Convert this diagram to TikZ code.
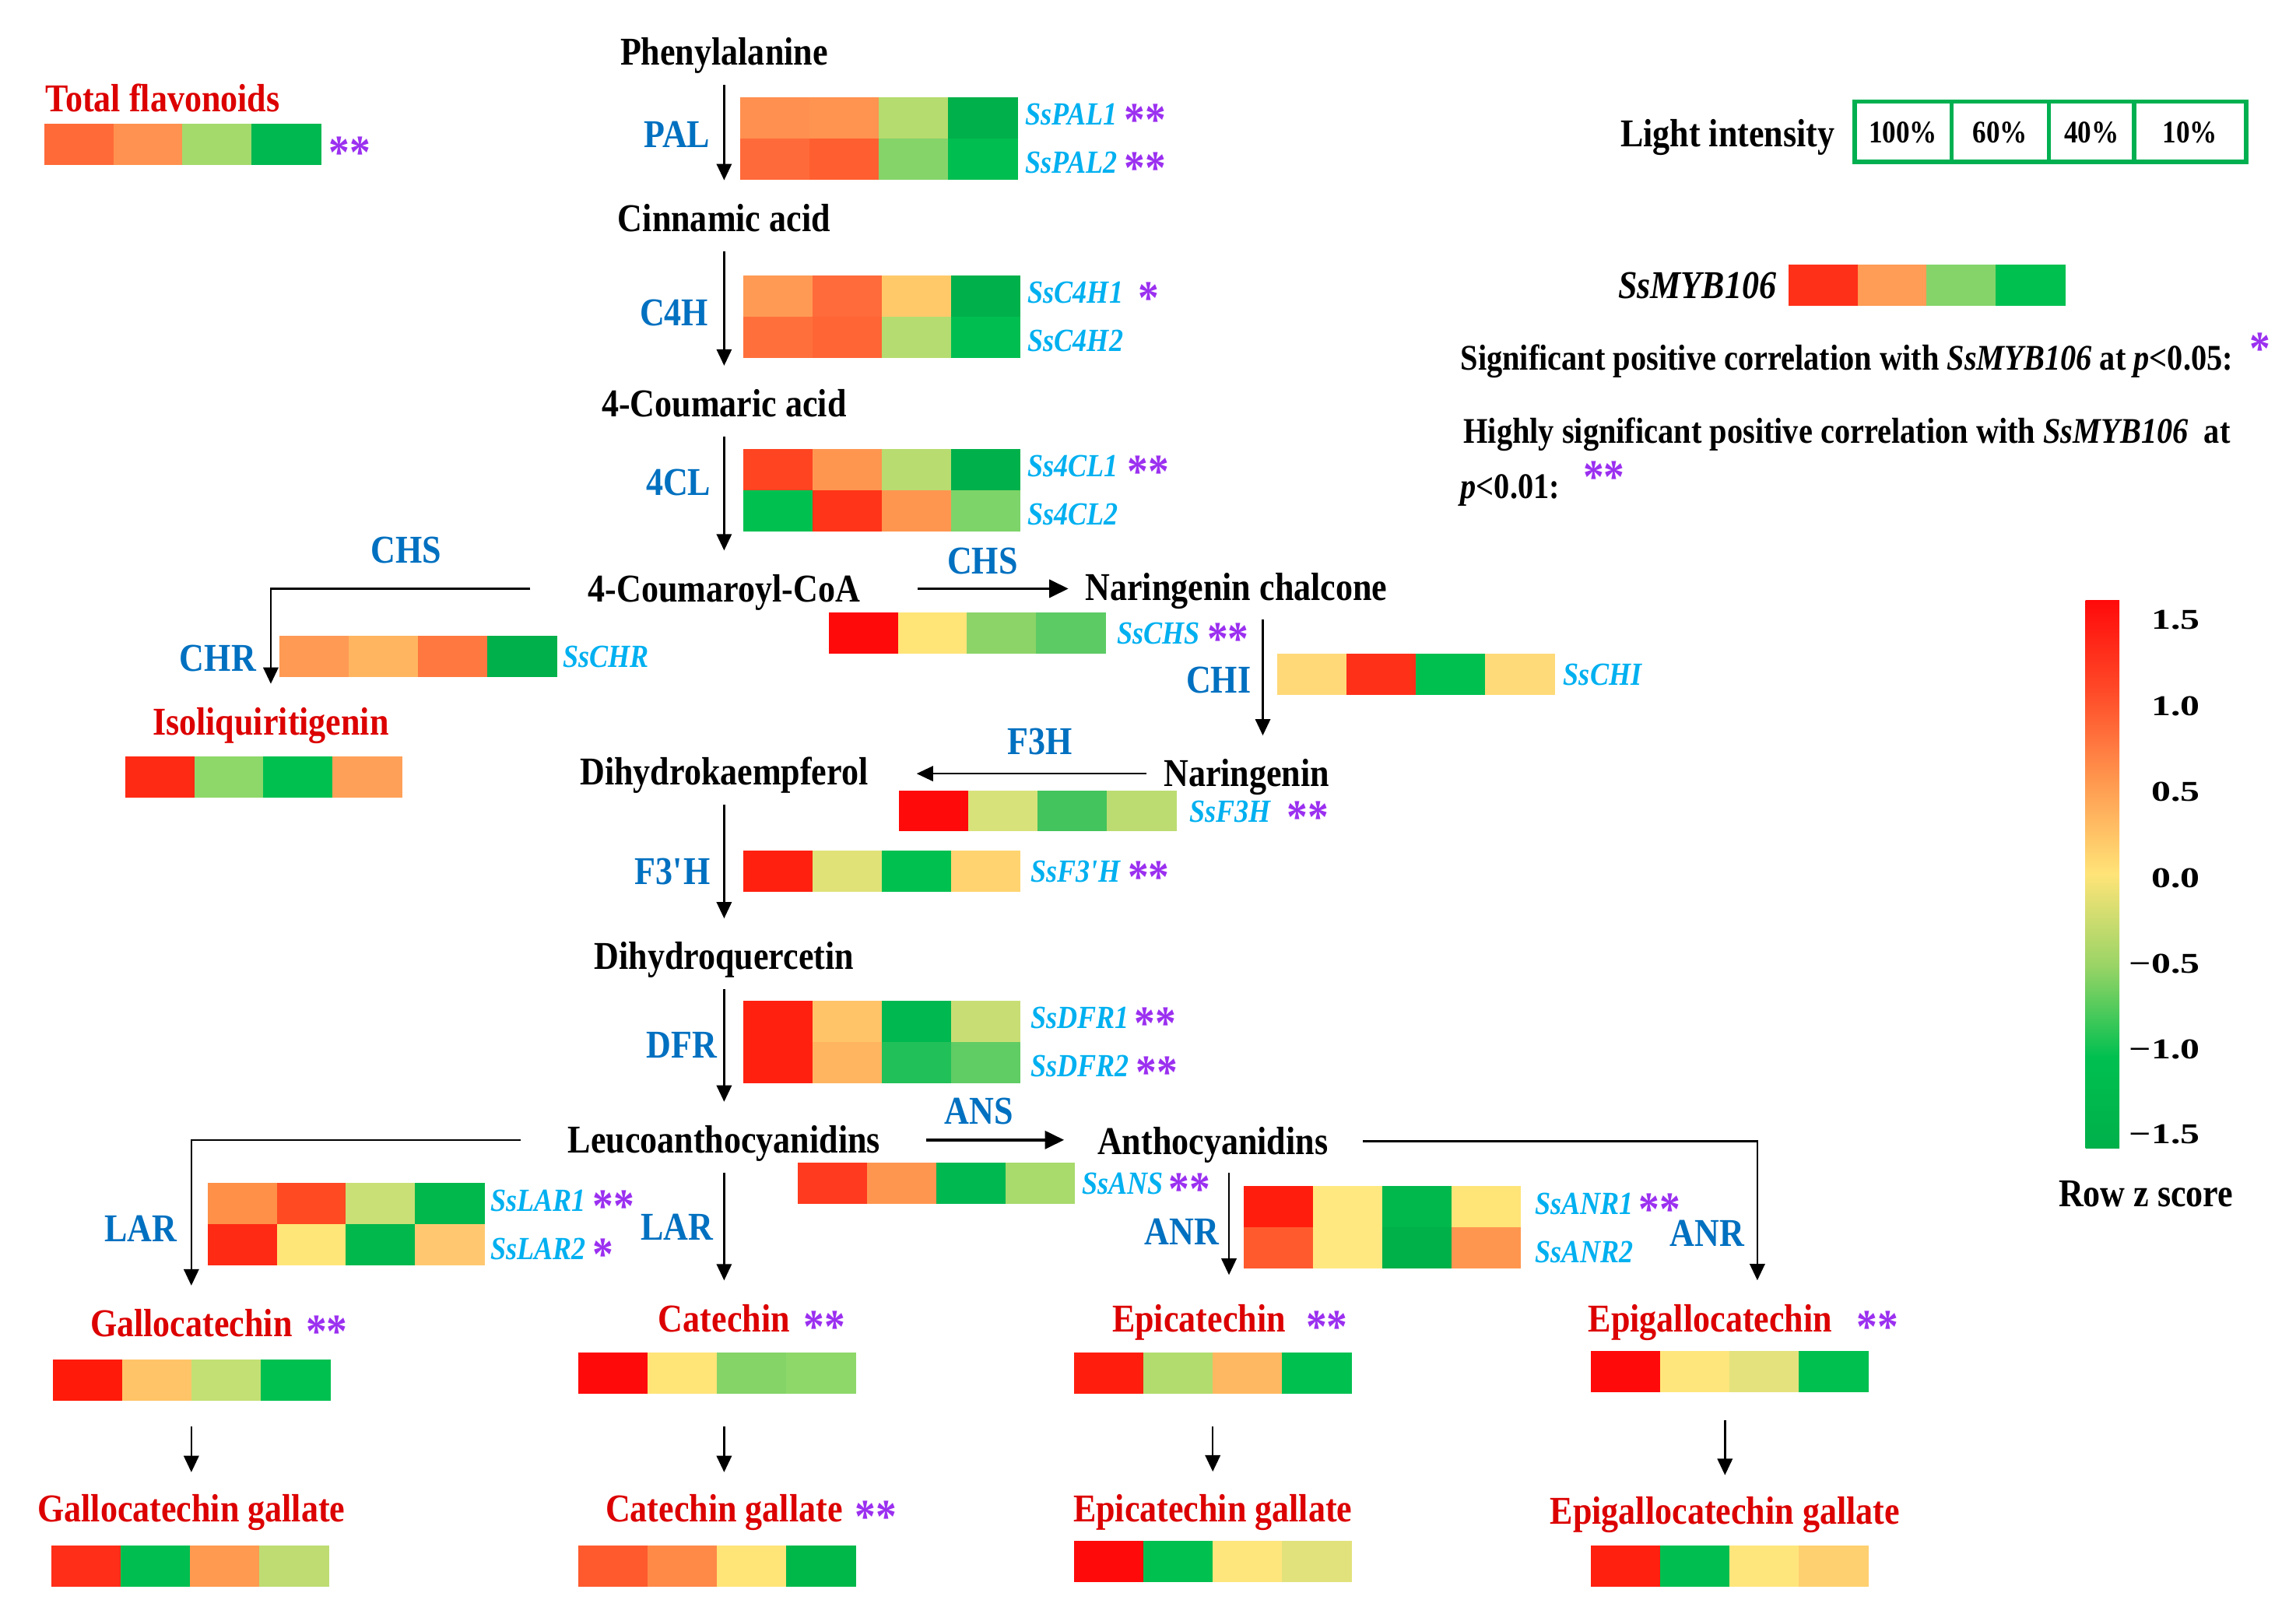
\documentclass[tikz,border=0pt]{standalone}
\usepackage{fontspec}
\setmainfont{Liberation Serif}[FakeStretch=0.87]
\newfontfamily\widefont{Liberation Serif}[FakeStretch=1.35]
\usetikzlibrary{arrows.meta,positioning,fit,calc}

\definecolor{metred}{HTML}{DC0000}
\definecolor{enzblue}{HTML}{0070C0}
\definecolor{genecyan}{HTML}{00B0F0}
\definecolor{starc}{HTML}{9B30F0}
\definecolor{boxgreen}{HTML}{00B050}
\definecolor{zA}{HTML}{00B04A}
\definecolor{zB}{HTML}{00C050}
\definecolor{zC}{HTML}{9AD466}
\definecolor{zD}{HTML}{FFE478}
\definecolor{zE}{HTML}{FF9A50}
\definecolor{zF}{HTML}{FF4A28}
\definecolor{zG}{HTML}{FF0A0A}
\pgfdeclareverticalshading{zscore}{100bp}{color(0bp)=(zA); color(25bp)=(zA); color(33.3bp)=(zB); color(41.7bp)=(zC); color(50bp)=(zD); color(58.3bp)=(zE); color(66.7bp)=(zF); color(75bp)=(zG); color(100bp)=(zG)}

% asteriscos de significancia
\newcommand{\sig}[2][-4pt]{{\color{starc}\upshape\fontsize{17.5}{17.5}\selectfont\raisebox{#1}[0pt][0pt]{#2}}}
% uma linha do mapa de calor: nome, x, y, cores
\newcommand{\heatrow}[4]{%
	\foreach \hx [count=\i from 0] in {#4}{%
		\edef\setc{\noexpand\definecolor{cellc}{HTML}{\hx}}\setc
		\fill[cellc] ({#2+47*\i},#3) rectangle ++(47.5,28);}
	\node[inner sep=0pt, fit={(#2,#3) ({#2+188},{#3+28})}] (#1) {};}

\tikzset{
	met/.style={font=\bfseries\fontsize{14.4}{16}\selectfont, text height=9.5pt, text depth=0pt, inner sep=0pt},
	prod/.style={met, text=metred},
	enz/.style={met, text=enzblue},
	gene/.style={font=\bfseries\itshape\fontsize{11.8}{14}\selectfont, text=genecyan, text height=8pt, text depth=0pt, inner sep=0pt, anchor=west},
	leg/.style={font=\bfseries\fontsize{13.2}{15}\selectfont, text height=9pt, text depth=0pt, inner sep=0pt, anchor=west},
	pct/.style={font=\bfseries\fontsize{11.5}{12}\selectfont, inner sep=0pt},
	zlab/.style={font=\widefont\bfseries\fontsize{10.5}{12}\selectfont, inner sep=0pt, anchor=east},
	arr/.style={-{Triangle[length=6pt,width=5.5pt]}, line width=0.7pt, shorten <=7pt, shorten >=9pt},
	arrh/.style={arr, line width=1.1pt, -{Triangle[length=7pt,width=6.5pt]}}
}

\begin{document}
\begin{tikzpicture}[x=0.01891cm, y=-0.01891cm]
	\useasboundingbox (0,0) rectangle (1560,1101.5);

	% flavonoides totais
	\node[prod] (tf) at (110.6,67) {Total flavonoids};
	\heatrow{tfh}{30}{84}{FF6A38,FF9250,A4DA6C,00B850}
	\node[met, anchor=west] (tfs) at ([xshift=2.5pt]tfh.east) {\sig{**}};

	% via principal
	\node[met] (phe) at (492,35.5) {Phenylalanine};
	\node[met] (cin) at (492,148.4) {Cinnamic acid};
	\node[met] (cou) at (492,274.4) {4-Coumaric acid};
	\node[met] (coa) at (492,400) {4-Coumaroyl-CoA};
	\node[met] (nch) at (840,399) {Naringenin chalcone};
	\node[prod] (iso) at (184,490.6) {Isoliquiritigenin};
	\node[met] (nar) at (847,525.7) {Naringenin};
	\node[met] (dhk) at (492,524.4) {Dihydrokaempferol};
	\node[met] (dhq) at (492,650) {Dihydroquercetin};
	\node[met] (leu) at (492,774.6) {Leucoanthocyanidins};
	\node[met] (ant) at (824,775.5) {Anthocyanidins};

	% catequinas
	\node[prod] (gc) at (130,899.5) {Gallocatechin\rlap{\hspace{5pt}\sig{**}}};
	\node[prod] (cat) at (492,896) {Catechin\rlap{\hspace{5pt}\sig{**}}};
	\node[prod] (ec) at (814.6,896) {Epicatechin\rlap{\hspace{7.5pt}\sig{**}}};
	\node[prod] (egc) at (1162,896) {Epigallocatechin\rlap{\hspace{9pt}\sig{**}}};
	\node[prod] (gcg) at (130,1025.4) {Gallocatechin gallate};
	\node[prod] (cg) at (492,1025.4) {Catechin gallate\rlap{\hspace{4.5pt}\sig{**}}};
	\node[prod] (ecg) at (824,1025) {Epicatechin gallate};
	\node[prod] (egcg) at (1172,1027) {Epigallocatechin gallate};

	% enzimas
	\node[enz] (pal) at (460,91.3) {PAL};
	\node[enz] (c4h) at (458,212.7) {C4H};
	\node[enz] (fcl) at (461,328) {4CL};
	\node[enz] (chsl) at (276,374) {CHS};
	\node[enz] (chr) at (148,447) {CHR};
	\node[enz] (chsr) at (667.5,381) {CHS};
	\node[enz] (chi) at (828,462) {CHI};
	\node[enz] (fth) at (706.6,503.6) {F3H};
	\node[enz] (ftph) at (457,592) {F3\textquotesingle H};
	\node[enz] (dfr) at (463,710) {DFR};
	\node[enz] (larl) at (95.5,835) {LAR};
	\node[enz] (larm) at (460,834) {LAR};
	\node[enz] (ans) at (665,755) {ANS};
	\node[enz] (anrl) at (803,837) {ANR};
	\node[enz] (anrr) at (1160,838) {ANR};

	% mapas de calor dos genes
	\heatrow{pal1}{503}{66}{FF9050,FF9350,B5DC6E,00B04A}
	\heatrow{pal2}{503}{94}{FF6A3A,FF5F30,85D46A,00BE50}
	\heatrow{cfh1}{505}{187}{FF9A55,FF6B3A,FFC96A,00B04A}
	\heatrow{cfh2}{505}{215}{FF6F3C,FF6535,B5DC70,00BE50}
	\heatrow{fcl1}{505}{305}{FF4422,FF9650,B8DC70,00B04A}
	\heatrow{fcl2}{505}{333}{00C050,FF3418,FF9650,7DD468}
	\heatrow{chsh}{563}{416}{FF0A0A,FFE478,8CD468,5CCB64}
	\heatrow{chrh}{190}{432}{FF9A55,FFB560,FF7840,00B04A}
	\heatrow{chih}{868}{444}{FFD878,FF3018,00C050,FFDA78}
	\heatrow{isoh}{85}{514}{FF2A14,8ED86A,00C050,FFA058}
	\heatrow{fthh}{611}{537}{FF0A0A,D8E27A,44C45C,BCDC72}
	\heatrow{ftphh}{505}{578}{FF2010,E0E278,00C050,FFD470}
	\heatrow{dfr1}{505}{680}{FF2010,FFC468,00B850,C8DE74}
	\heatrow{dfr2}{505}{708}{FF2010,FFB460,22C058,60CC64}
	\heatrow{lar1}{141}{804}{FF9048,FF4A22,C8E076,00B84C}
	\heatrow{lar2}{141}{832}{FF2A14,FFE678,00B84C,FFC870}
	\heatrow{ansh}{542}{790}{FF3A1E,FF9650,00B850,A8DA6C}
	\heatrow{anr1}{845}{806}{FF1E0E,FFE880,00B84C,FFE478}
	\heatrow{anr2}{845}{834}{FF5A2E,FFE880,00B048,FF9650}
	\heatrow{gch}{36}{924}{FF1A0A,FFC468,C2E074,00C050}
	\heatrow{cath}{393}{919}{FF0A0A,FFE478,84D468,8ED86A}
	\heatrow{ech}{730}{919}{FF1E0E,B2DC6E,FFB862,00C050}
	\heatrow{egch}{1081}{918}{FF0A0A,FFE67C,E4E27C,00C050}
	\heatrow{gcgh}{35}{1050}{FF2E18,00BE50,FF9A50,BEDC72}
	\heatrow{cgh}{393}{1050}{FF5A2E,FF8A48,FFE478,00B84A}
	\heatrow{ecgh}{730}{1047}{FF0A0A,00C050,FFE67C,E2E27C}
	\heatrow{egcgh}{1081}{1050}{FF2010,00BE50,FFE67C,FFD070}

	% nomes dos genes
	\node[gene] (gpal1) at ([xshift=2.7pt,yshift=1.3pt]pal1.east) {SsPAL1 \sig{**}};
	\node[gene] (gpal2) at ([xshift=2.7pt,yshift=-1.3pt]pal2.east) {SsPAL2 \sig{**}};
	\node[gene] (gcfh1) at ([xshift=2.5pt,yshift=1.3pt]cfh1.east) {SsC4H1};
	\node[gene] (scfh1) at ([xshift=5pt]gcfh1.east) {\sig{*}};
	\node[gene] (gcfh2) at ([xshift=2.5pt,yshift=-1.3pt]cfh2.east) {SsC4H2};
	\node[gene] (gfcl1) at ([xshift=2.5pt,yshift=1.3pt]fcl1.east) {Ss4CL1};
	\node[gene] (sfcl1) at ([xshift=3pt]gfcl1.east) {\sig{**}};
	\node[gene] (gfcl2) at ([xshift=2.5pt,yshift=-1.3pt]fcl2.east) {Ss4CL2};
	\node[gene] (gchs) at ([xshift=4pt]chsh.east) {SsCHS \sig{**}};
	\node[gene] (gchr) at ([xshift=2pt]chrh.east) {SsCHR};
	\node[gene] (gchi) at ([xshift=3pt]chih.east) {SsCHI};
	\node[gene] (gfth) at ([xshift=4.5pt]fthh.east) {SsF3H\hspace{6pt}\sig{**}};
	\node[gene] (gftph) at ([xshift=3.5pt]ftphh.east) {SsF3\textquotesingle H \sig{**}};
	\node[gene] (gdfr1) at ([xshift=3.5pt,yshift=1.3pt]dfr1.east) {SsDFR1\,\sig{**}};
	\node[gene] (gdfr2) at ([xshift=3.5pt,yshift=-1.3pt]dfr2.east) {SsDFR2 \sig{**}};
	\node[gene] (glar1) at ([xshift=2pt,yshift=1.3pt]lar1.east) {SsLAR1 \sig{**}};
	\node[gene] (glar2) at ([xshift=2pt,yshift=-1.3pt]lar2.east) {SsLAR2 \sig{*}};
	\node[gene] (gans) at ([xshift=2.5pt]ansh.east) {SsANS\,\sig{**}};
	\node[gene] (ganr1) at ([xshift=5pt,yshift=1.3pt]anr1.east) {SsANR1};
	\node[gene] (sanr1) at ([xshift=1.5pt]ganr1.east) {\sig{**}};
	\node[gene] (ganr2) at ([xshift=5pt,yshift=-1.3pt]anr2.east) {SsANR2};

	% setas
	\draw[arr] (phe) -- (cin);
	\draw[arr] (cin) -- (cou);
	\draw[arr] (cou) -- (coa);
	\draw[arr, shorten <=21pt] (coa.west) -| (iso);
	\draw[arrh, shorten <=21pt, shorten >=6pt] (coa.east) -- (coa.east -| nch.west);
	\coordinate (chitop) at (858,421);
	\draw[arr, shorten <=0pt] (chitop) -- (chitop |- nar.north);
	\draw[arr, shorten <=6pt, shorten >=17.5pt] (nar.west) -- (nar.west -| dhk.east);
	\draw[arr] (dhk) -- (dhq);
	\draw[arr] (dhq) -- (leu);
	\draw[arr, shorten <=17pt] (leu.west) -| (gc);
	\draw[arr] (leu) -- (cat);
	\draw[arrh, shorten <=16.5pt, shorten >=12pt] (leu.east) -- (leu.east -| ant.west);
	\coordinate (anrtop) at (835,797);
	\draw[arr, shorten <=0pt, shorten >=11pt] (anrtop) -- (anrtop |- ec.north);
	\coordinate (anrend) at (1194,870);
	\draw[arr, shorten <=12.5pt, shorten >=0pt] (ant.east) -| (anrend);
	\draw[arr, shorten <=9pt, shorten >=8.5pt] (gch.south -| gcg.north) -- (gcg.north);
	\draw[arr, shorten <=11.8pt, shorten >=8.5pt] (cath.south -| cg.north) -- (cg.north);
	\draw[arr, shorten <=11.8pt, shorten >=8.5pt] (ech.south -| ecg.north) -- (ecg.north);
	\draw[arr, shorten <=10pt, shorten >=8.3pt] (egch.south -| egcg.north) -- (egcg.north);

	% intensidade de luz
	\node[met, anchor=east] (light) at (1247,91) {Light intensity};
	\draw[boxgreen, line width=1.6pt] (1260,69) rectangle (1326,110);
	\draw[boxgreen, line width=1.6pt] (1326,69) rectangle (1392,110);
	\draw[boxgreen, line width=1.6pt] (1392,69) rectangle (1450,110);
	\draw[boxgreen, line width=1.6pt] (1450,69) rectangle (1526,110);
	\node[pct] (p100) at (1293,90) {100\%};
	\node[pct] (p60) at (1359,90) {60\%};
	\node[pct] (p40) at (1421,90) {40\%};
	\node[pct] (p10) at (1488,90) {10\%};

	% SsMYB106 e legenda
	\heatrow{mybh}{1215}{180}{FF3018,FF9C55,85D46A,00C050}
	\node[met, anchor=east, font=\bfseries\itshape\fontsize{14.4}{16}\selectfont] (myb) at ([xshift=-4pt]mybh.west) {SsMYB106};
	\node[leg] (sig1) at (992,243) {Significant positive correlation with \textit{SsMYB106} at \textit{p}<0.05:\rlap{\hspace{6pt}\sig[2pt]{*}}};
	\node[leg] (sig2) at (994,292.7) {Highly significant positive correlation with \textit{SsMYB106}\ \ at};
	\node[leg] (sig3) at (992,330.5) {\textit{p}<0.01:\rlap{\hspace{8.6pt}\sig[2pt]{**}}};

	% escala de cores
	\shade[shading=zscore] (1417,408) rectangle (1440,780);
	\node[zlab] (z1) at (1495,421) {1.5};
	\node[zlab] (z2) at (1495,480) {1.0};
	\node[zlab] (z3) at (1495,538) {0.5};
	\node[zlab] (z4) at (1495,597) {0.0};
	\node[zlab] (z5) at (1495,655) {−0.5};
	\node[zlab] (z6) at (1495,713) {−1.0};
	\node[zlab] (z7) at (1495,771) {−1.5};
	\node[met] (rowz) at (1458,811) {Row z score};
\end{tikzpicture}
\end{document}
